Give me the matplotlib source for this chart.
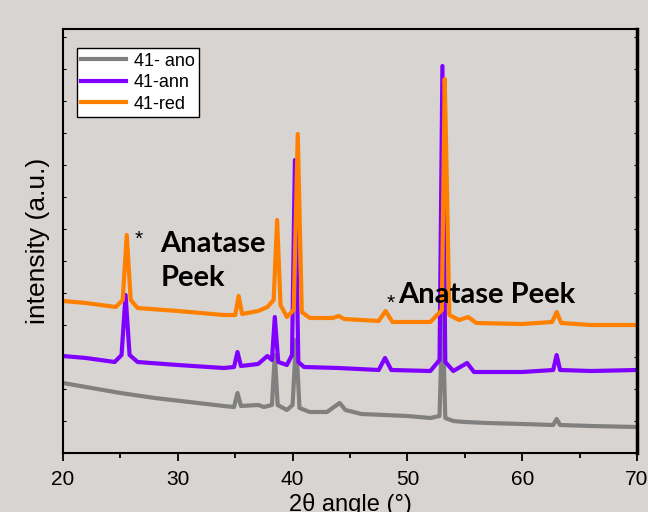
import matplotlib
matplotlib.use("Agg")
import matplotlib.pyplot as plt
from matplotlib.ticker import MultipleLocator

# ---- data (2theta in degrees, intensity in a.u.) ----
ano_x = [20.0, 22.0, 25.0, 28.0, 31.0, 34.0, 34.9, 35.2, 35.5, 37.0, 37.5, 38.2, 38.45, 38.7,
         39.5, 40.0, 40.3, 40.6, 41.5, 43.0, 43.6, 44.1, 44.6, 46.0, 48.0, 50.0, 52.0, 52.8,
         53.05, 53.3, 54.0, 55.0, 57.0, 60.0, 62.7, 63.0, 63.3, 66.0, 70.0]
ano_y = [70, 66, 60, 55, 51, 47, 46, 60, 47, 48, 46, 48, 98, 48,
         43, 48, 113, 45, 41, 41, 46, 50, 43, 39, 38, 37, 35, 37,
         140, 35, 32, 31, 30, 29, 28, 34, 28, 27, 26]

ann_x = [20.0, 22.0, 24.5, 25.1, 25.45, 25.8, 26.5, 30.0, 34.0, 34.9, 35.2, 35.5, 37.0, 37.8,
         38.2, 38.45, 38.75, 39.5, 39.95, 40.2, 40.5, 41.0, 44.0, 47.5, 48.05, 48.6, 52.0,
         52.8, 53.05, 53.3, 54.0, 55.2, 55.8, 60.0, 62.7, 63.0, 63.3, 66.0, 70.0]
ann_y = [97, 95, 91, 98, 158, 98, 91, 88, 85, 86, 101, 87, 89, 97,
         93, 136, 91, 88, 98, 293, 91, 86, 85, 83, 95, 83, 82,
         93, 387, 91, 82, 90, 81, 81, 83, 98, 83, 82, 83]

red_x = [20.0, 22.0, 24.6, 25.2, 25.55, 25.9, 26.5, 30.0, 34.0, 35.0, 35.3, 35.6, 37.0, 37.8,
         38.35, 38.65, 38.95, 39.5, 40.1, 40.45, 40.8, 41.5, 43.5, 44.0, 44.5, 47.5, 48.1,
         48.7, 52.0, 53.0, 53.25, 53.45, 53.65, 54.5, 55.3, 56.0, 60.0, 62.6, 63.0, 63.4,
         66.0, 70.0]
red_y = [152, 150, 146, 153, 218, 153, 145, 142, 138, 138, 157, 139, 142, 146,
         153, 233, 148, 136, 143, 319, 141, 135, 135, 137, 134, 132, 142,
         131, 131, 143, 374, 263, 138, 133, 136, 130, 129, 131, 141, 130,
         128, 128]

labels = ["41- ano", "41-ann", "41-red"]
colors = ["#808080", "#8000ff", "#ff8000"]
xticks = [20, 30, 40, 50, 60, 70]

bg = "#d8d4d1"
fig = plt.figure(figsize=(6.48, 5.12), dpi=100, facecolor=bg)
ax = fig.add_axes([63/648, 59/512, 574/648, 424/512], facecolor=bg)

for xs, ys, c, lab in zip([ano_x, ann_x, red_x], [ano_y, ann_y, red_y], colors, labels):
    ax.plot(xs, ys, color=c, lw=3.0, label=lab, solid_joinstyle="round")

ax.set_xlim(20, 70)
ax.set_ylim(0, 424)
ax.set_xticks(xticks)
ax.set_xticklabels([str(t) for t in xticks], fontfamily="Liberation Sans", fontsize=15)
ax.xaxis.set_minor_locator(MultipleLocator(5))
ax.tick_params(axis="x", which="major", direction="out", length=6, width=1.3, pad=6)
ax.tick_params(axis="x", which="minor", direction="out", length=3.5, width=1.3)
ax.tick_params(axis="y", which="both", left=True, right=True, direction="in", length=2,
               width=0.8, labelleft=False)
ax.set_yticks(range(0, 425, 32))
ax.tick_params(axis="x", which="both", top=False)

for s in ax.spines.values():
    s.set_linewidth(1.5)
    s.set_color("black")
ax.spines["right"].set_linewidth(2.5)

ax.set_xlabel("2θ angle (°)", fontfamily="Liberation Sans", fontsize=17, labelpad=3)
ax.set_ylabel("intensity (a.u.)", fontfamily="Liberation Sans", fontsize=19, labelpad=9)

bold = dict(fontfamily="Lato", fontweight="bold", fontsize=21, color="black")
ax.text(26.6, 214, "*", fontfamily="Liberation Sans", fontsize=15, ha="center", va="center")
ax.text(28.5, 201, "Anatase", ha="left", va="baseline", **bold)
ax.text(28.5, 167, "Peek", ha="left", va="baseline", **bold)
ax.text(48.55, 150, "*", fontfamily="Liberation Sans", fontsize=15, ha="center", va="center")
ax.text(49.2, 150, "Anatase Peek", ha="left", va="baseline", **bold)

leg = ax.legend(loc="upper left", bbox_to_anchor=(0.024, 0.955), borderaxespad=0,
                prop={"family": "Liberation Sans", "size": 13}, frameon=True, fancybox=False,
                framealpha=1, edgecolor="black", handlelength=2.5, handletextpad=0.4,
                labelspacing=0.25, borderpad=0.25)
leg.get_frame().set_linewidth(1.0)
for line in leg.get_lines():
    line.set_linewidth(3)

fig.savefig("out.png", dpi=100, facecolor=bg)
